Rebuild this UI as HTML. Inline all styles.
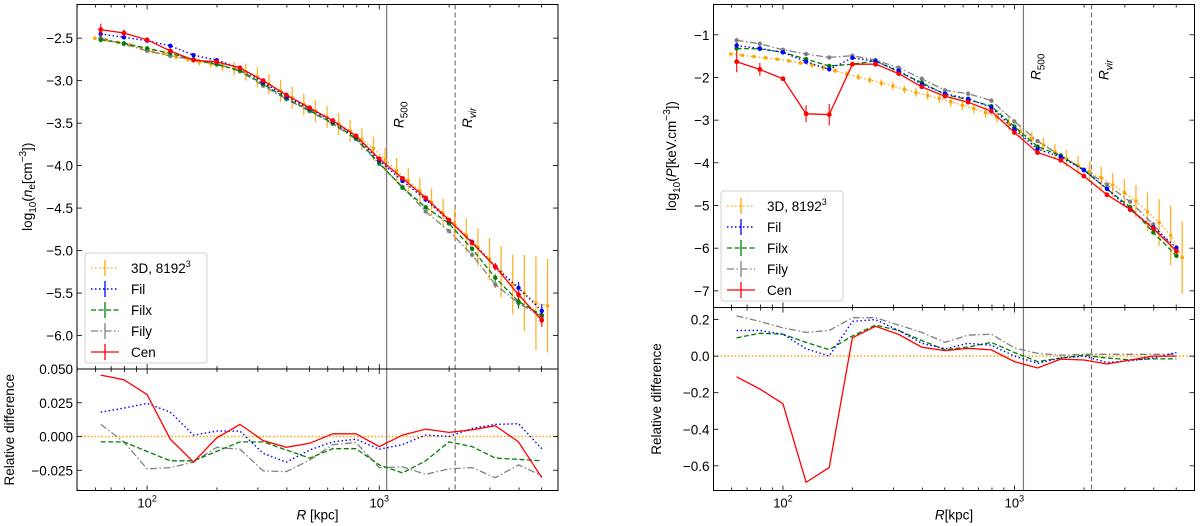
<!DOCTYPE html>
<html><head><meta charset="utf-8"><style>
html,body{margin:0;padding:0;background:#fff;}
svg{display:block;font-family:"Liberation Sans","DejaVu Sans",sans-serif;}
</style></head><body>
<svg id="fig" width="1200" height="526" viewBox="0 0 1200 526" xmlns="http://www.w3.org/2000/svg"></svg>
<script>
// ---- shared x data (log10 kpc) ----
const xSim = [1.8,1.9,2.0,2.1,2.2,2.3,2.4,2.5,2.6,2.7,2.8,2.9,3.0,3.1,3.2,3.3,3.4,3.5,3.6,3.7];
const x3d = [1.775,1.825,1.875,1.925,1.975,2.025,2.075,2.125,2.175,2.225,2.275,2.325,2.375,2.425,2.475,2.525,2.575,2.625,2.675,2.725,2.775,2.825,2.875,2.925,2.975,3.025,3.075,3.125,3.175,3.225,3.275,3.325,3.375,3.425,3.475,3.525,3.575,3.625,3.675,3.725];
// ---- left: density ----
const neCen = [-2.40,-2.44,-2.52,-2.65,-2.76,-2.78,-2.85,-3.00,-3.17,-3.32,-3.47,-3.65,-3.92,-4.15,-4.38,-4.64,-4.91,-5.19,-5.52,-5.82];
const neFil = [-2.45,-2.49,-2.53,-2.59,-2.70,-2.76,-2.85,-3.02,-3.19,-3.33,-3.48,-3.66,-3.94,-4.18,-4.40,-4.65,-4.90,-5.19,-5.44,-5.71];
const neFilx = [-2.52,-2.56,-2.62,-2.68,-2.75,-2.81,-2.88,-3.04,-3.21,-3.35,-3.50,-3.68,-3.97,-4.26,-4.49,-4.68,-4.98,-5.32,-5.60,-5.76];
const neFily = [-2.50,-2.57,-2.65,-2.71,-2.75,-2.80,-2.89,-3.06,-3.22,-3.36,-3.51,-3.69,-3.98,-4.25,-4.54,-4.77,-5.05,-5.40,-5.62,-5.78];
const ne3d = [-2.50,-2.52,-2.55,-2.58,-2.62,-2.66,-2.68,-2.72,-2.75,-2.78,-2.80,-2.83,-2.86,-2.90,-2.96,-3.04,-3.12,-3.20,-3.28,-3.36,-3.43,-3.51,-3.59,-3.69,-3.80,-3.93,-4.06,-4.18,-4.30,-4.43,-4.56,-4.69,-4.82,-4.96,-5.10,-5.25,-5.40,-5.50,-5.62,-5.65];
const ne3dErr = [0.01,0.01,0.01,0.01,0.02,0.02,0.02,0.03,0.03,0.04,0.05,0.06,0.08,0.10,0.12,0.12,0.13,0.13,0.13,0.13,0.13,0.13,0.13,0.13,0.14,0.14,0.15,0.15,0.16,0.16,0.17,0.18,0.20,0.22,0.25,0.30,0.35,0.45,0.55,0.55];
const neCenErr = [0.07,0.04,0.03,0.03,0.02,0.02,0.02,0.02,0.02,0.02,0.02,0.02,0.02,0.02,0.02,0.02,0.03,0.04,0.06,0.08];
const neFilErr = [0.03,0.02,0.02,0.02,0.02,0.02,0.02,0.02,0.02,0.02,0.02,0.02,0.02,0.02,0.02,0.02,0.03,0.04,0.07,0.08];
const rdneCen = [0.0455,0.042,0.031,-0.002,-0.019,-0.001,0.009,-0.003,-0.008,-0.005,0.002,0.002,-0.0075,0.001,0.0055,0.003,0.005,0.008,-0.004,-0.0305];
const rdneFil = [0.018,0.021,0.0245,0.018,0.001,0.004,0.004,-0.0125,-0.019,-0.010,-0.004,-0.002,-0.0095,-0.006,0.001,0.0,0.006,0.009,0.0095,-0.009];
const rdneFilx = [-0.004,-0.004,-0.011,-0.018,-0.018,-0.011,-0.004,-0.004,-0.010,-0.016,-0.009,-0.009,-0.021,-0.027,-0.018,-0.004,-0.0075,-0.016,-0.017,-0.018];
const rdneFily = [0.009,-0.004,-0.024,-0.023,-0.019,-0.008,-0.0095,-0.0255,-0.026,-0.0175,-0.006,-0.0045,-0.023,-0.0225,-0.028,-0.024,-0.023,-0.0305,-0.021,-0.029];
const neTicks = [-2.5,-3.0,-3.5,-4.0,-4.5,-5.0,-5.5,-6.0];
const rdneTicks = [0.050,0.025,0.000,-0.025];
// ---- right: pressure ----
const pCen = [-1.63,-1.81,-2.03,-2.85,-2.87,-1.69,-1.69,-1.91,-2.22,-2.44,-2.58,-2.79,-3.29,-3.76,-3.94,-4.31,-4.75,-5.09,-5.54,-6.07];
const pFil = [-1.25,-1.32,-1.41,-1.63,-1.81,-1.54,-1.62,-1.84,-2.16,-2.38,-2.50,-2.70,-3.21,-3.68,-3.86,-4.17,-4.61,-5.10,-5.51,-5.99];
const pFilx = [-1.32,-1.33,-1.41,-1.57,-1.73,-1.69,-1.61,-1.87,-2.12,-2.40,-2.52,-2.67,-3.15,-3.62,-3.83,-4.17,-4.61,-5.04,-5.63,-6.18];
const pFily = [-1.13,-1.21,-1.35,-1.45,-1.53,-1.49,-1.59,-1.77,-2.03,-2.30,-2.38,-2.54,-3.03,-3.49,-3.83,-4.16,-4.51,-4.91,-5.44,-6.07];
const p3d = [-1.45,-1.48,-1.51,-1.54,-1.57,-1.61,-1.66,-1.71,-1.77,-1.84,-1.92,-1.99,-2.06,-2.13,-2.20,-2.28,-2.35,-2.42,-2.49,-2.57,-2.65,-2.73,-2.82,-2.93,-3.08,-3.26,-3.43,-3.58,-3.74,-3.90,-4.06,-4.20,-4.35,-4.52,-4.70,-4.90,-5.15,-5.40,-5.70,-6.22];
const p3dErr = [0.03,0.03,0.03,0.03,0.04,0.04,0.05,0.05,0.06,0.06,0.07,0.07,0.08,0.08,0.09,0.09,0.10,0.10,0.11,0.11,0.12,0.12,0.13,0.13,0.14,0.15,0.16,0.17,0.18,0.20,0.22,0.24,0.26,0.28,0.32,0.38,0.45,0.55,0.70,0.85];
const pCenErr = [0.25,0.15,0.04,0.20,0.25,0.05,0.04,0.03,0.03,0.03,0.03,0.03,0.03,0.03,0.03,0.03,0.03,0.03,0.05,0.06];
const pFilErr = [0.06,0.05,0.04,0.04,0.04,0.04,0.03,0.03,0.03,0.03,0.03,0.03,0.03,0.03,0.03,0.03,0.03,0.03,0.04,0.05];
const rdpCen = [-0.113,-0.18,-0.26,-0.69,-0.61,0.10,0.163,0.119,0.049,0.03,0.043,0.034,-0.03,-0.065,-0.016,-0.021,-0.043,-0.021,0.0,0.0];
const rdpFil = [0.14,0.14,0.12,0.04,0.0,0.19,0.20,0.14,0.07,0.04,0.07,0.06,0.0,-0.04,-0.01,0.0,-0.035,-0.025,-0.01,0.02];
const rdpFilx = [0.10,0.125,0.12,0.075,0.035,0.11,0.17,0.14,0.085,0.035,0.05,0.075,0.02,-0.03,-0.01,0.005,-0.01,-0.02,-0.015,-0.015];
const rdpFily = [0.22,0.19,0.155,0.13,0.14,0.21,0.21,0.17,0.13,0.075,0.115,0.12,0.045,0.015,0.005,0.01,0.01,0.01,0.01,0.01];
const pTicks = [-1,-2,-3,-4,-5,-6,-7];
const rdpTicks = [0.2,0.0,-0.2,-0.4,-0.6];

const NS="http://www.w3.org/2000/svg";
const svg=document.getElementById('fig');
function el(tag,attrs,parent){const e=document.createElementNS(NS,tag);for(const k in attrs)e.setAttribute(k,attrs[k]);(parent||svg).appendChild(e);return e;}
const MINUS='\u2212';
function fmt(v,d){const s=Math.abs(v).toFixed(d);return (v<0?MINUS:'')+s;}

function linScale(d0,d1,r0,r1){return v=>r0+(v-d0)/(d1-d0)*(r1-r0);}

function axesFrame(g,L,R,T,B,sx,yTicks,sy,dec,name,showXLabels){
  el('rect',{x:L,y:T,width:R-L,height:B-T,fill:'none',stroke:'#000','stroke-width':1},g);
  for(let d=1;d<=3;d++){for(let m=1;m<10;m++){const lx=d+Math.log10(m);const px=sx(lx);if(px<L||px>R)continue;const len=m===1?5:3;
    el('line',{x1:px,y1:B,x2:px,y2:B-len,stroke:'#000','stroke-width':0.8},g);
    el('line',{x1:px,y1:T,x2:px,y2:T+len,stroke:'#000','stroke-width':0.8},g);
    if(m===1&&showXLabels){const t=el('text',{x:px,y:B+17,'font-size':13,'text-anchor':'middle'},g);t.textContent='10';
      const s=el('tspan',{dy:-6,'font-size':9},t);s.textContent=String(d);}
  }}
  yTicks.forEach(v=>{const py=sy(v);
    el('line',{x1:L,y1:py,x2:L+5,y2:py,stroke:'#000','stroke-width':0.8},g);
    el('line',{x1:R,y1:py,x2:R-5,y2:py,stroke:'#000','stroke-width':0.8},g);
    const t=el('text',{x:L-4,y:py+5,'font-size':13.5,'text-anchor':'end'},g);t.textContent=fmt(v,dec);
    });
}
const styles={
  d3:{c:'orange',dash:'1.5,2.5',w:1.3},
  fil:{c:'blue',dash:'1.5,2.5',w:1.4},
  filx:{c:'green',dash:'5,2.5',w:1.3},
  fily:{c:'grey',dash:'7,2.5,1.5,2.5',w:1.3},
  cen:{c:'red',dash:'',w:1.3}
};
function series(g,xs,ys,sx,sy,st,name,errs,markers,clipId){
  const gg=el('g',{'clip-path':'url(#'+clipId+')'},g);
  
  let d='';xs.forEach((x,i)=>{d+=(i?'L':'M')+sx(x).toFixed(1)+','+sy(ys[i]).toFixed(1);});
  const p=el('path',{d:d,fill:'none',stroke:st.c,'stroke-width':st.w,'stroke-dasharray':st.dash},gg);
  
  if(errs){xs.forEach((x,i)=>{const e=el('line',{x1:sx(x),x2:sx(x),y1:sy(ys[i]-errs[i]),y2:sy(ys[i]+errs[i]),stroke:st.c,'stroke-width':1.3,opacity:0.85},gg);
    });}
  if(markers){xs.forEach((x,i)=>{const c=el('circle',{cx:sx(x),cy:sy(ys[i]),r:markers,fill:st.c},gg);
    });}
}
function legend(g,x,y){
  const box=el('rect',{x:x,y:y,width:122,height:110,rx:3,fill:'#fff',stroke:'#ccc','stroke-width':1,opacity:0.9},g);
  
  const entries=[['d3','3D, 8192'],['fil','Fil'],['filx','Filx'],['fily','Fily'],['cen','Cen']];
  entries.forEach((en,i)=>{const st=styles[en[0]];const yy=y+15+i*21;
    const lg=el('g',{},g);
    el('line',{x1:x+6,x2:x+34,y1:yy,y2:yy,stroke:st.c,'stroke-width':st.w,'stroke-dasharray':st.dash},lg);
    el('line',{x1:x+20,x2:x+20,y1:yy-8,y2:yy+8,stroke:st.c,'stroke-width':1.3},lg);
    const t=el('text',{x:x+46,y:yy+5,'font-size':13.5},lg);t.textContent=en[1];
    if(en[0]==='d3'){const s=el('tspan',{dy:-6,'font-size':9},t);s.textContent='3';}
  });
}
function vline(g,sx,lx,T,B,dashed,label){
  const px=sx(lx);
  const l=el('line',{x1:px,x2:px,y1:T,y2:B,stroke:'#777','stroke-width':1.2,'stroke-dasharray':dashed?'5,3':''},g);
  
}
function vlabel(g,px,py,main,sub,italicSub){
  const t=el('text',{transform:'translate('+(px)+','+py+') rotate(-90)','font-size':13.5},g);
  const a=el('tspan',{'font-style':'italic'},t);a.textContent=main;
  const b=el('tspan',{dy:4,'font-size':10,'font-style':italicSub?'italic':'normal'},t);b.textContent=sub;
  
}
function clip(id,L,T,R,B){const defs=el('defs',{});const c=el('clipPath',{id:id},defs);el('rect',{x:L,y:T,width:R-L,height:B-T},c);}

function panel(cfg){
  const g=el('g',{});
  const sx=linScale(cfg.xmin,cfg.xmax,cfg.L,cfg.R);
  const syT=linScale(cfg.yTop[0],cfg.yTop[1],cfg.T,cfg.M);
  const syB=linScale(cfg.yBot[0],cfg.yBot[1],cfg.M,cfg.B);
  clip(cfg.name+'-ct',cfg.L,cfg.T,cfg.R,cfg.M);clip(cfg.name+'-cb',cfg.L,cfg.M,cfg.R,cfg.B);
  const top=el('g',{},g);
  vline(top,sx,cfg.r500,cfg.T,cfg.B,false,'r500');vline(top,sx,cfg.rvir,cfg.T,cfg.B,true,'rvir');
  series(top,x3d,cfg.d3,sx,syT,styles.d3,'series-3d',cfg.d3Err,1.8,cfg.name+'-ct');
  series(top,xSim,cfg.fily,sx,syT,styles.fily,'series-fily',cfg.filErr,2.2,cfg.name+'-ct');
  series(top,xSim,cfg.filx,sx,syT,styles.filx,'series-filx',cfg.filErr,2.2,cfg.name+'-ct');
  series(top,xSim,cfg.fil,sx,syT,styles.fil,'series-fil',cfg.filErr,2.2,cfg.name+'-ct');
  series(top,xSim,cfg.cen,sx,syT,styles.cen,'series-cen',cfg.cenErr,2.4,cfg.name+'-ct');
  axesFrame(top,cfg.L,cfg.R,cfg.T,cfg.M,sx,cfg.tTicks,syT,cfg.tDec,cfg.name+'-main',false);
  legend(top,cfg.legX,cfg.legY);
  vlabel(top,sx(cfg.r500)+17,cfg.labY,'R','500',false);
  vlabel(top,sx(cfg.rvir)+17,cfg.labY,'R','vir',true);
  const bot=el('g',{},g);
  const z=el('line',{x1:cfg.L,x2:cfg.R,y1:syB(0),y2:syB(0),stroke:'orange','stroke-width':1.4,'stroke-dasharray':'1.5,2'},bot);
  
  series(bot,xSim,cfg.rdFily,sx,syB,styles.fily,'residual-fily',null,0,cfg.name+'-cb');
  series(bot,xSim,cfg.rdFilx,sx,syB,styles.filx,'residual-filx',null,0,cfg.name+'-cb');
  series(bot,xSim,cfg.rdFil,sx,syB,styles.fil,'residual-fil',null,0,cfg.name+'-cb');
  series(bot,xSim,cfg.rdCen,sx,syB,styles.cen,'residual-cen',null,0,cfg.name+'-cb');
  axesFrame(bot,cfg.L,cfg.R,cfg.M,cfg.B,sx,cfg.bTicks,syB,cfg.bDec,cfg.name+'-residual',true);
  const yl=el('text',{transform:'translate('+cfg.ylX+','+((cfg.T+cfg.M)/2)+') rotate(-90)','font-size':13.5,'text-anchor':'middle'},g);
  
  cfg.ylBuild(yl);
  const rl=el('text',{transform:'translate('+cfg.rlX+','+((cfg.M+cfg.B)/2)+') rotate(-90)','font-size':13.5,'text-anchor':'middle'},g);
  rl.textContent='Relative difference';
  const xl=el('text',{x:(cfg.L+cfg.R)/2,y:cfg.B+29,'font-size':13.5,'text-anchor':'middle'},g);
  
  const xi=el('tspan',{'font-style':'italic'},xl);xi.textContent='R';
  const xr=el('tspan',{},xl);xr.textContent=cfg.xlabRest;
}
function sub(t,txt,style){const s=el('tspan',style||{},t);s.textContent=txt;return s;}

panel({name:'density-panel',L:77,R:558,T:4.5,M:369,B:490.5,xmin:1.698,xmax:3.77,
  yTop:[-2.104,-6.394],yBot:[0.050,-0.040],tTicks:neTicks,tDec:1,bTicks:rdneTicks,bDec:3,
  d3:ne3d,d3Err:ne3dErr,cen:neCen,fil:neFil,filx:neFilx,fily:neFily,cenErr:neCenErr,filErr:neFilErr,
  rdCen:rdneCen,rdFil:rdneFil,rdFilx:rdneFilx,rdFily:rdneFily,r500:3.032,rvir:3.327,
  legX:85,legY:253,labY:128,ylX:32,rlX:14,xlabRest:' [kpc]',
  ylBuild:t=>{sub(t,'log');sub(t,'10',{dy:4,'font-size':10});sub(t,'(',{dy:-4});sub(t,'n',{'font-style':'italic'});sub(t,'e',{dy:3,'font-size':10});sub(t,'[cm',{dy:-3});sub(t,MINUS+'3',{dy:-6,'font-size':10});sub(t,'])',{dy:6});}
});
panel({name:'pressure-panel',L:713.5,R:1194.5,T:4.5,M:307.5,B:490.5,xmin:1.70,xmax:3.778,
  yTop:[-0.29,-7.39],yBot:[0.266,-0.735],tTicks:pTicks,tDec:0,bTicks:rdpTicks,bDec:1,
  d3:p3d,d3Err:p3dErr,cen:pCen,fil:pFil,filx:pFilx,fily:pFily,cenErr:pCenErr,filErr:pFilErr,
  rdCen:rdpCen,rdFil:rdpFil,rdFilx:rdpFilx,rdFily:rdpFily,r500:3.039,rvir:3.333,
  legX:721,legY:191,labY:80,ylX:676,rlX:661,xlabRest:'[kpc]',
  ylBuild:t=>{sub(t,'log');sub(t,'10',{dy:4,'font-size':10});sub(t,'(',{dy:-4});sub(t,'P',{'font-style':'italic'});sub(t,'[keV.cm');sub(t,MINUS+'3',{dy:-6,'font-size':10});sub(t,'])',{dy:6});}
});
</script>
</body></html>
